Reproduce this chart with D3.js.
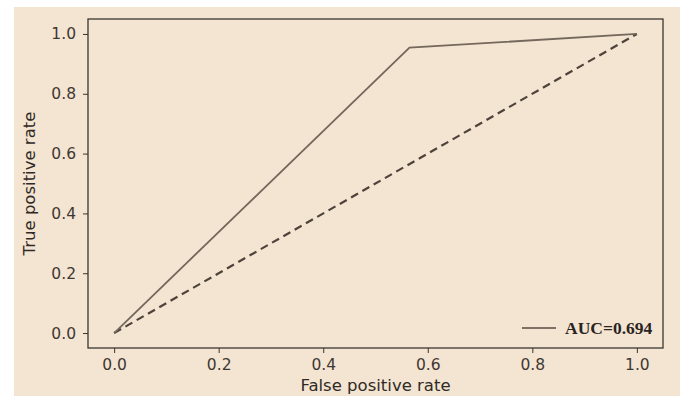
<!DOCTYPE html>
<html>
<head>
<meta charset="utf-8">
<script src="https://cdn.jsdelivr.net/npm/d3@7"></script>
<style>
  html, body { margin: 0; padding: 0; background: #ffffff; }
  svg { display: block; }
  .tick text { font-family: "DejaVu Sans", sans-serif; font-size: 15.5px; fill: #3e3833; }
  .tick line { stroke: #3b3530; }
  .axis-label { font-family: "DejaVu Sans", sans-serif; font-size: 16.5px; fill: #2f2a26; }
</style>
</head>
<body>
<div id="chart"></div>
<script>
// ROC curve points (false positive rate, true positive rate)
const fpr = [0.0, 0.565, 1.0];
const tpr = [0.0, 0.954, 1.0];
// chance diagonal
const diagX = [0.0, 1.0];
const diagY = [0.0, 1.0];
const tickValues = [0.0, 0.2, 0.4, 0.6, 0.8, 1.0];
const legendLabel = 'AUC=0.694';

const width = 683, height = 396;
const margin = { top: 19, right: 20, bottom: 48, left: 88 };
const plotW = 663 - margin.left;
const plotH = 348 - margin.top;

const svg = d3.select('#chart').append('svg')
    .attr('width', width)
    .attr('height', height);

// beige figure background with white strip on left/top/right
svg.append('rect')
    .attr('x', 14).attr('y', 7)
    .attr('width', 666).attr('height', height - 7)
    .attr('fill', '#f4e4d2');

const g = svg.append('g')
    .attr('transform', `translate(${margin.left},${margin.top})`);

const x = d3.scaleLinear().domain([-0.05, 1.05]).range([0, plotW]);
const y = d3.scaleLinear().domain([-0.05, 1.05]).range([plotH, 0]);

// axes
g.append('g')
    .attr('transform', `translate(0,${plotH})`)
    .call(d3.axisBottom(x).tickValues(tickValues).tickFormat(d3.format('.1f')).tickSize(5).tickPadding(6))
    .call(a => a.select('.domain').remove());

g.append('g')
    .call(d3.axisLeft(y).tickValues(tickValues).tickFormat(d3.format('.1f')).tickSize(5).tickPadding(7))
    .call(a => a.select('.domain').remove());

// frame
g.append('rect')
    .attr('width', plotW).attr('height', plotH)
    .attr('fill', 'none')
    .attr('stroke', '#3b3530')
    .attr('stroke-width', 1.3);

const line = d3.line().x(d => x(d[0])).y(d => y(d[1]));

// diagonal dashed
g.append('path')
    .datum(d3.zip(diagX, diagY))
    .attr('d', line)
    .attr('fill', 'none')
    .attr('stroke', '#4e433a')
    .attr('stroke-width', 2.2)
    .attr('stroke-dasharray', '8,5');

// ROC curve
g.append('path')
    .datum(d3.zip(fpr, tpr))
    .attr('d', line)
    .attr('fill', 'none')
    .attr('stroke', '#74685c')
    .attr('stroke-width', 1.8);

// legend
const leg = g.append('g').attr('transform', `translate(${522 - margin.left},${328 - margin.top})`);
leg.append('line')
    .attr('x1', 0).attr('x2', 34)
    .attr('stroke', '#7d7166').attr('stroke-width', 1.8);
leg.append('text')
    .attr('x', 43).attr('y', 6)
    .attr('font-family', '"Liberation Serif", "Times New Roman", serif')
    .attr('font-weight', 'bold')
    .attr('font-size', 17.5)
    .attr('fill', '#2a2420')
    .text(legendLabel);

// axis labels
svg.append('text')
    .attr('class', 'axis-label')
    .attr('x', margin.left + x(0.5))
    .attr('y', 391)
    .attr('text-anchor', 'middle')
    .text('False positive rate');

svg.append('text')
    .attr('class', 'axis-label')
    .attr('transform', `translate(35,${margin.top + y(0.5)}) rotate(-90)`)
    .attr('text-anchor', 'middle')
    .text('True positive rate');
</script>
</body>
</html>
